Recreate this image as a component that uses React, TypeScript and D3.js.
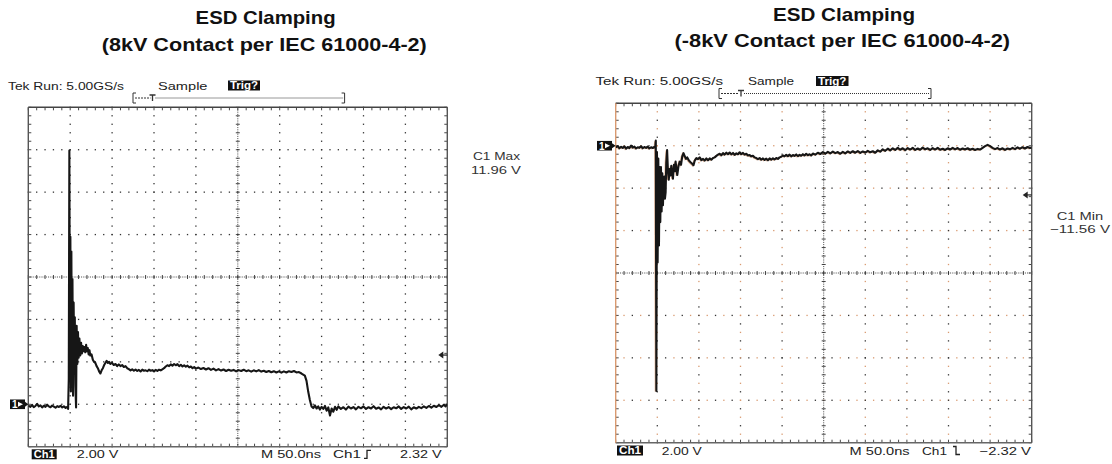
import React from "react";
import * as d3 from "d3";

type Pt = [number, number];

// time axis: 50 ns/div, 10 divisions
const timeDomain: [number, number] = [0, 500];
// 2 V/div, 8 divisions; ground marker 3 div below / above centre
const leftVoltDomain: [number, number] = [-2, 14];
const rightVoltDomain: [number, number] = [-14, 2];

const leftTitle = ["ESD Clamping", "(8kV Contact per IEC 61000-4-2)"];
const rightTitle = ["ESD Clamping", "(-8kV Contact per IEC 61000-4-2)"];
const headerLabels = ["Tek Run: 5.00GS/s", "Sample", "Trig?"];
const leftFooter = ["Ch1", "2.00 V", "M 50.0ns", "Ch1", "2.32 V"];
const rightFooter = ["Ch1", "2.00 V", "M 50.0ns", "Ch1", "\u22122.32 V"];
const leftMeasure = ["C1 Max", "11.96 V"];
const rightMeasure = ["C1 Min", "\u221211.56 V"];
const leftTrigger = 2.32;
const rightTrigger = -2.32;

// [ns, V]
const leftTrace: Pt[] = [
  [0, -0.06], [2.5, -0.12], [4.5, -0.03], [6.5, -0.14], [8.5, -0.08], [10.5, 0.02], [12.5, -0.1], [14.5, -0.05],
  [16.5, -0.15], [18.5, -0.07], [20.5, -0.12], [22.5, -0.02], [24.5, -0.1], [26.5, -0.14], [28.5, -0.06], [30.5, -0.11],
  [32.5, -0.16], [34.5, -0.09], [36.5, -0.13], [38.5, -0.07], [40.5, -0.15], [42.5, -0.1], [44.5, -0.17], [46.5, -0.12],
  [47.5, -0.22], [48.3, 1.2], [49, 11.96], [49.6, 3.0], [50.2, 7.9], [50.8, 0.6], [51.4, 7.2], [52, 1.4], [52.7, 5.9],
  [53.4, 0.4], [54.1, 4.8], [54.8, 1.6], [55.5, 4.1], [56.2, 0.9], [57, -0.15], [57.7, 3.7], [58.5, 1.9], [59.3, 3.4],
  [60.1, 2.2], [61, 3.1], [62, 2.3], [63, 2.9], [64, 2.4], [65, 2.75], [66, 2.5], [67, 2.7], [68, 2.45], [69, 2.8],
  [70, 2.5], [71, 2.65], [72, 2.35], [73, 2.55], [74, 2.3], [75.5, 2.35], [77, 2.1], [78.5, 2.0], [80, 1.95],
  [81.5, 1.8], [83, 1.7], [84.5, 1.55], [86, 1.45], [87.5, 1.6], [89, 1.7], [90.5, 1.85], [92, 1.95], [93.5, 2.05],
  [95, 1.95], [96.5, 2.0], [98, 1.9], [100, 1.95], [102, 1.85], [104, 1.9], [106, 1.8], [108, 1.88], [110, 1.8],
  [112, 1.85], [114, 1.76], [116, 1.8], [118, 1.7], [120, 1.66], [122, 1.6], [124, 1.65], [126, 1.58], [128, 1.64],
  [130, 1.57], [132, 1.62], [134, 1.55], [136, 1.63], [138, 1.58], [140, 1.6], [142, 1.56], [144, 1.63], [146, 1.58],
  [148, 1.61], [150, 1.55], [152, 1.62], [154, 1.57], [156, 1.63], [158, 1.6], [160, 1.65], [162, 1.7], [164, 1.78],
  [166, 1.84], [168, 1.8], [170, 1.88], [172, 1.82], [174, 1.9], [176, 1.84], [178, 1.89], [180, 1.8], [182, 1.86],
  [184, 1.78], [186, 1.84], [188, 1.77], [190, 1.82], [192, 1.74], [194, 1.78], [196, 1.7], [198, 1.75], [200, 1.68],
  [203, 1.73], [206, 1.66], [209, 1.71], [212, 1.64], [215, 1.7], [218, 1.62], [221, 1.68], [224, 1.6], [227, 1.66],
  [230, 1.59], [233, 1.64], [236, 1.57], [239, 1.63], [242, 1.58], [245, 1.62], [248, 1.55], [251, 1.61], [254, 1.57],
  [257, 1.63], [260, 1.56], [263, 1.6], [266, 1.54], [269, 1.6], [272, 1.55], [275, 1.61], [278, 1.54], [281, 1.58],
  [284, 1.52], [287, 1.57], [290, 1.51], [293, 1.56], [296, 1.5], [299, 1.55], [302, 1.49], [305, 1.55], [308, 1.5],
  [311, 1.56], [314, 1.52], [317, 1.57], [320, 1.5], [323, 1.52], [326, 1.45], [328, 1.4], [330, 1.35], [332, 1.1],
  [334, 0.6], [336, 0.2], [338, -0.1], [340, -0.18], [342, -0.05], [344, -0.2], [346, -0.1], [348, -0.25], [350, -0.12],
  [352, -0.22], [354, -0.08], [356, -0.3], [358, -0.15], [360, -0.53], [362, -0.2], [364, -0.35], [366, -0.12],
  [368, -0.26], [370, -0.1], [373, -0.22], [376, -0.14], [379, -0.25], [382, -0.11], [385, -0.2], [388, -0.13],
  [391, -0.24], [394, -0.12], [397, -0.19], [400, -0.1], [403, -0.22], [406, -0.14], [409, -0.2], [412, -0.09],
  [415, -0.21], [418, -0.15], [421, -0.24], [424, -0.12], [427, -0.2], [430, -0.13], [433, -0.23], [436, -0.14],
  [439, -0.19], [442, -0.1], [445, -0.22], [448, -0.13], [451, -0.2], [454, -0.11], [457, -0.24], [460, -0.14],
  [463, -0.2], [466, -0.12], [469, -0.18], [472, -0.1], [475, -0.17], [478, -0.08], [481, -0.16], [484, -0.07],
  [487, -0.13], [490, -0.04], [493, -0.12], [496, -0.02], [498, -0.1], [500, 0.0],
];

// [ns, V]
const rightTrace: Pt[] = [
  [0, -0.08], [2.5, -0.02], [4.5, -0.12], [6.5, -0.05], [8.5, -0.1], [10.5, -0.03], [12.5, -0.14], [14.5, -0.06],
  [16.5, -0.11], [18.5, 0.0], [20.5, -0.09], [22.5, -0.04], [24.5, -0.13], [26.5, -0.07], [28.5, -0.1], [30.5, -0.02],
  [32.5, -0.12], [34.5, -0.06], [36.5, -0.1], [38.5, -0.04], [40.5, -0.13], [42.5, -0.07], [44.5, -0.11], [46.5, -0.05],
  [47.5, -0.1], [48.2, 0.24], [48.9, -11.56], [49.6, -0.3], [50.4, -5.5], [51.2, -0.6], [52, -4.7], [52.8, -1.0],
  [53.6, -3.6], [54.4, -1.0], [55.2, -3.1], [56, -1.3], [56.8, -2.8], [57.6, -1.6], [58.4, -1.45], [59.2, -2.5],
  [60, -2.2], [60.8, -0.8], [61.8, -0.2], [62.8, -1.2], [63.8, -1.6], [64.8, -1.1], [65.8, -1.4], [66.8, -0.95],
  [67.8, -1.3], [68.8, -1.55], [70, -0.9], [71, -1.2], [72, -0.75], [73, -1.1], [74, -1.38], [75.5, -0.95],
  [77, -0.75], [78.5, -0.9], [80, -0.5], [81.5, -0.35], [83, -0.5], [84.5, -0.62], [86, -0.55], [88, -0.7],
  [90, -0.78], [92, -0.85], [93.5, -0.92], [95, -0.7], [97, -0.58], [99, -0.63], [101, -0.55], [103, -0.68],
  [105, -0.62], [107, -0.7], [109, -0.6], [111, -0.68], [113, -0.6], [115, -0.66], [117, -0.58], [119, -0.55],
  [121, -0.48], [123, -0.42], [125, -0.38], [127, -0.45], [129, -0.35], [131, -0.42], [133, -0.33], [135, -0.4],
  [137, -0.32], [139, -0.41], [141, -0.34], [143, -0.43], [145, -0.36], [147, -0.4], [149, -0.31], [151, -0.4],
  [153, -0.34], [155, -0.42], [157, -0.38], [159, -0.46], [161, -0.44], [163, -0.5], [165, -0.47], [167, -0.55],
  [169, -0.58], [171, -0.63], [173, -0.58], [175, -0.66], [177, -0.6], [179, -0.67], [181, -0.61], [183, -0.68],
  [185, -0.6], [187, -0.66], [189, -0.59], [191, -0.65], [193, -0.58], [195, -0.62], [197, -0.55], [199, -0.52],
  [201, -0.46], [203, -0.5], [205, -0.43], [207, -0.49], [209, -0.42], [211, -0.5], [213, -0.44], [215, -0.48],
  [217, -0.41], [219, -0.49], [221, -0.43], [223, -0.47], [225, -0.4], [227, -0.46], [229, -0.38], [231, -0.45],
  [233, -0.4], [235, -0.46], [237, -0.37], [240, -0.42], [243, -0.33], [246, -0.39], [249, -0.3], [252, -0.37],
  [255, -0.29], [258, -0.36], [261, -0.28], [264, -0.35], [267, -0.3], [270, -0.38], [273, -0.29], [276, -0.36],
  [279, -0.27], [282, -0.34], [285, -0.26], [288, -0.33], [291, -0.25], [294, -0.34], [297, -0.27], [300, -0.32],
  [303, -0.24], [306, -0.31], [309, -0.26], [312, -0.33], [315, -0.22], [318, -0.28], [321, -0.17], [324, -0.24],
  [327, -0.14], [330, -0.22], [333, -0.12], [336, -0.2], [339, -0.1], [342, -0.19], [345, -0.12], [348, -0.21],
  [351, -0.11], [354, -0.18], [357, -0.1], [360, -0.2], [363, -0.13], [366, -0.19], [369, -0.09], [372, -0.17],
  [375, -0.12], [378, -0.2], [381, -0.11], [384, -0.18], [387, -0.1], [390, -0.19], [393, -0.14], [396, -0.2],
  [399, -0.12], [402, -0.18], [405, -0.1], [408, -0.17], [411, -0.11], [414, -0.19], [417, -0.13], [420, -0.18],
  [423, -0.12], [426, -0.19], [429, -0.14], [432, -0.2], [435, -0.15], [438, -0.18], [441, -0.1], [444, -0.02],
  [447, 0.04], [450, -0.02], [453, -0.1], [456, -0.16], [459, -0.11], [462, -0.18], [465, -0.12], [468, -0.2],
  [471, -0.13], [474, -0.17], [477, -0.1], [480, -0.16], [483, -0.08], [486, -0.14], [489, -0.07], [492, -0.13],
  [495, -0.06], [498, -0.11], [500, -0.08],
];

const FONT = "'Liberation Sans', Arial, sans-serif";
const ORANGE = "#d99a70";

function Txt({ x0, x1, y, text, size = 11.5, weight = 400, fill = "#222" }: any) {
  return (
    <text x={x0} y={y} fontSize={size} fontWeight={weight} fill={fill} fontFamily={FONT}
      textLength={x1 - x0} lengthAdjust="spacingAndGlyphs">{text}</text>
  );
}

function Scope({ cfg }: { cfg: any }) {
  const { x0, x1, y0, y1 } = cfg.frame;
  const xs = d3.scaleLinear().domain(timeDomain).range([x0, x1]);
  const ys = d3.scaleLinear().domain(cfg.voltDomain).range([y1, y0]);
  const gx = d3.scaleLinear().domain([0, 10]).range([x0, x1]);
  const gy = d3.scaleLinear().domain([-4, 4]).range([y1, y0]);
  const line = d3.line<Pt>().x(d => xs(d[0])).y(d => ys(d[1]));
  const minX = d3.range(0, 50.5).map(i => i / 5);
  const minY = d3.range(0, 40.5).map(i => -4 + i / 5);
  const gridCol = "#333";
  const dots: any[] = [];
  [1, 2, 3, 4, 6, 7, 8, 9].forEach(i => {
    minY.forEach((v, j) => {
      const c = cfg.orange && j % 2 === 1 ? ORANGE : gridCol;
      dots.push(<rect key={`v${i}-${j}`} x={gx(i) - 0.65} y={gy(v) - 0.65} width={1.3} height={1.3} fill={c} />);
    });
  });
  [-3, -2, -1, 1, 2, 3].forEach(k => {
    minX.forEach((u, j) => {
      const c = cfg.orange && j % 2 === 1 ? ORANGE : gridCol;
      dots.push(<rect key={`h${k}-${j}`} x={gx(u) - 0.65} y={gy(k) - 0.65} width={1.3} height={1.3} fill={c} />);
    });
  });
  const cx = gx(5), cy = gy(0);
  const ticks: any[] = [];
  minY.forEach((v, j) => {
    const y = gy(v);
    ticks.push(<line key={`cy${j}`} x1={cx - 2} x2={cx + 2} y1={y} y2={y} />);
    ticks.push(<line key={`ly${j}`} x1={x0} x2={x0 + 3} y1={y} y2={y} />);
    ticks.push(<line key={`ry${j}`} x1={x1 - 3} x2={x1} y1={y} y2={y} />);
  });
  minX.forEach((u, j) => {
    const x = gx(u);
    ticks.push(<line key={`cx${j}`} x1={x} x2={x} y1={cy - 2} y2={cy + 2} />);
    ticks.push(<line key={`tx${j}`} x1={x} x2={x} y1={y0} y2={y0 + 3} />);
    ticks.push(<line key={`bx${j}`} x1={x} x2={x} y1={y1 - 3} y2={y1} />);
  });
  const h = cfg.header;
  const f = cfg.footer;
  const fb = f.base;
  const trigY = ys(cfg.trigger);
  const gnd = ys(0);
  const clipId = `clip-${cfg.id}`;
  return (
    <g>
      {cfg.title.map((t: string, i: number) => (
        <text key={i} x={cfg.titleCx[i]} y={cfg.titleY[i]} textAnchor="middle" fontSize={19} fontWeight={700}
          fontFamily={FONT} fill="#111" textLength={cfg.titleW[i]} lengthAdjust="spacingAndGlyphs">{t}</text>
      ))}
      <Txt x0={h.tek[0]} x1={h.tek[1]} y={h.y} text={headerLabels[0]} />
      <Txt x0={h.sample[0]} x1={h.sample[1]} y={h.y} text={headerLabels[1]} />
      <rect x={h.trig[0]} y={h.y - 9} width={h.trig[1] - h.trig[0]} height={10} fill="#111" />
      <Txt x0={h.trig[0] + 2} x1={h.trig[1] - 2} y={h.y - 0.5} text={headerLabels[2]} size={10} weight={700} fill="#fff" />
      <g stroke="#333" strokeWidth={1} fill="none">
        <path d={`M${h.br[0] + 3},${h.br[3] - 5}H${h.br[0]}V${h.br[3] + 5}H${h.br[0] + 3}`} />
        <path d={`M${h.br[2] - 3},${h.br[3] - 5}H${h.br[2]}V${h.br[3] + 5}H${h.br[2] - 3}`} />
        <line x1={h.br[0] + 2} x2={h.br[1] - 2} y1={h.br[3]} y2={h.br[3]} strokeDasharray="2 1" />
        <path d={`M${h.br[1] - 3},${h.br[3] - 3}H${h.br[1] + 3}M${h.br[1]},${h.br[3] - 3}V${h.br[3] + 3}`} strokeWidth={1.3} />
        <line x1={h.br[1] + 3} x2={h.br[2] - 1} y1={h.br[3]} y2={h.br[3]} strokeDasharray="1 1" />
      </g>
      <g>{dots}</g>
      <g stroke={gridCol} strokeWidth={0.9}>
        {ticks}
        <line x1={cx} x2={cx} y1={y0} y2={y1} strokeDasharray="1 1.2" />
        <line x1={x0} x2={x1} y1={cy} y2={cy} strokeDasharray="1 1.2" />
      </g>
      <g strokeWidth={1.4}>
        <line x1={x0} x2={x1} y1={y0} y2={y0} stroke="#444" />
        <line x1={x0} x2={x1} y1={y1} y2={y1} stroke="#666" />
        <line x1={x1} x2={x1} y1={y0} y2={y1} stroke="#555" />
        <line x1={x0} x2={x0} y1={y0} y2={y1} stroke={cfg.orange ? ORANGE : "#555"} />
      </g>
      <clipPath id={clipId}><rect x={x0} y={y0} width={x1 - x0} height={y1 - y0} /></clipPath>
      <g clipPath={`url(#${clipId})`}>
        {cfg.orange && (
          <path d={line(cfg.trace) || ""} transform="translate(-1,0.6)" fill="none" stroke={ORANGE}
            strokeWidth={1.4} opacity={0.7} />
        )}
        <path d={line(cfg.trace) || ""} fill="none" stroke="#161616" strokeWidth={2.1} strokeLinejoin="round" />
      </g>
      {/* ground marker */}
      <rect x={cfg.marker[0]} y={gnd - 4.8} width={cfg.marker[1] - cfg.marker[0]} height={9.6} fill="#111" />
      <text x={cfg.marker[0] + 2} y={gnd + 3.8} fontSize={10} fontWeight={700} fill="#fff" fontFamily={FONT}>1</text>
      <path d={`M${cfg.marker[1] - 7},${gnd - 2.5}L${cfg.marker[1] - 2},${gnd}L${cfg.marker[1] - 7},${gnd + 2.5}Z`} fill="#fff" />
      <path d={`M${cfg.marker[1]},${gnd - 2.5}L${x0},${gnd}L${cfg.marker[1]},${gnd + 2.5}Z`} fill="#111" />
      {/* trigger level */}
      <path d={`M${x1 - 9},${trigY}L${x1 - 4},${trigY - 3.5}L${x1 - 4},${trigY + 3.5}Z`} fill="#222" />
      <line x1={x1 - 5} x2={x1} y1={trigY} y2={trigY} stroke="#222" strokeWidth={1.2} />
      {/* measurement */}
      {cfg.measure.map((t: string, i: number) => (
        <Txt key={i} x0={cfg.measX[i][0]} x1={cfg.measX[i][1]} y={cfg.measY[i]} text={t} size={11} fill="#333" />
      ))}
      {/* footer */}
      <rect x={f.box[0]} y={fb - 9} width={f.box[1] - f.box[0]} height={10} fill="#111" />
      <Txt x0={f.box[0] + 2} x1={f.box[1] - 2} y={fb - 0.3} text={cfg.footLabels[0]} size={10} weight={700} fill="#fff" />
      <Txt x0={f.volt[0]} x1={f.volt[1]} y={fb} text={cfg.footLabels[1]} />
      <Txt x0={f.time[0]} x1={f.time[1]} y={fb} text={cfg.footLabels[2]} />
      <Txt x0={f.ch[0]} x1={f.ch[1]} y={fb} text={cfg.footLabels[3]} />
      <path d={cfg.rising
        ? `M${f.sym},${fb}H${f.sym + 3}V${fb - 8}H${f.sym + 7}`
        : `M${f.sym},${fb - 8}H${f.sym + 3}V${fb}H${f.sym + 7}`} stroke="#222" strokeWidth={1.3} fill="none" />
      <Txt x0={f.lvl[0]} x1={f.lvl[1]} y={fb} text={cfg.footLabels[4]} />
    </g>
  );
}

const leftCfg = {
  id: "l",
  frame: { x0: 28.3, x1: 447.3, y0: 107.3, y1: 446.7 },
  voltDomain: leftVoltDomain, trace: leftTrace, trigger: leftTrigger, rising: true, orange: false,
  title: leftTitle, titleCx: [265.6, 264.3], titleY: [23.8, 50.5], titleW: [140, 325],
  header: { y: 89.5, tek: [8, 124], sample: [158, 207.5], trig: [228, 260], br: [133, 152.5, 344.6, 98] },
  marker: [10, 25],
  measure: leftMeasure, measX: [[473, 520], [471, 521]], measY: [160, 174],
  footLabels: leftFooter,
  footer: { base: 458.3, box: [31.7, 56.7], volt: [76.7, 118.3], time: [261, 321], ch: [333, 361], sym: 364, lvl: [400, 441.7] },
};

const rightCfg = {
  id: "r",
  frame: { x0: 615.7, x1: 1031.7, y0: 103.3, y1: 442.7 },
  voltDomain: rightVoltDomain, trace: rightTrace, trigger: rightTrigger, rising: false, orange: true,
  title: rightTitle, titleCx: [844, 842.3], titleY: [21.2, 47.2], titleW: [142, 335.5],
  header: { y: 85, tek: [595.5, 723], sample: [748, 794], trig: [816, 848.5], br: [719, 741, 931, 93.5] },
  marker: [597, 612],
  measure: rightMeasure, measX: [[1056.7, 1103.3], [1050, 1110]], measY: [220, 232.7],
  footLabels: rightFooter,
  footer: { base: 454.5, box: [617, 643], volt: [661.7, 701.7], time: [849.6, 909.6], ch: [922, 947], sym: 953, lvl: [979.5, 1031] },
};

export default function App() {
  return (
    <svg width={1112} height={464} style={{ position: "absolute", left: 0, top: 0, background: "#fff" }}>
      <rect width={1112} height={464} fill="#fff" />
      <Scope cfg={leftCfg} />
      <Scope cfg={rightCfg} />
    </svg>
  );
}
